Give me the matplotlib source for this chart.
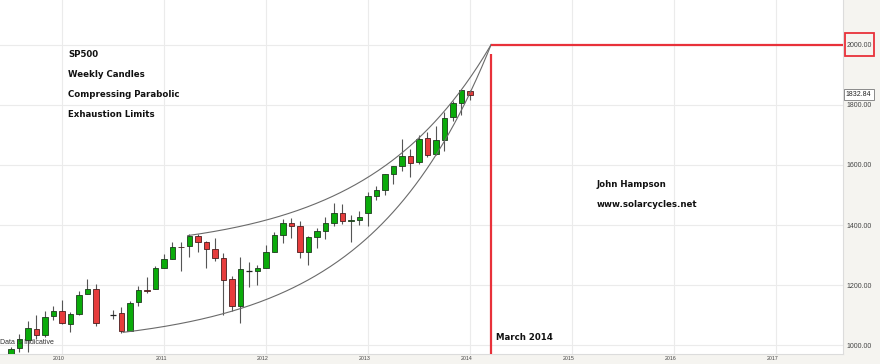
import matplotlib
matplotlib.use('Agg')
import matplotlib.pyplot as plt
import matplotlib.transforms as mtransforms
from matplotlib.patches import Rectangle
import numpy as np

# ---- data (monthly candles, June 2010 missing in source) ----
months = ['2009-07', '2009-08', '2009-09', '2009-10', '2009-11', '2009-12',
          '2010-01', '2010-02', '2010-03', '2010-04', '2010-05', '2010-07',
          '2010-08', '2010-09', '2010-10', '2010-11', '2010-12',
          '2011-01', '2011-02', '2011-03', '2011-04', '2011-05', '2011-06',
          '2011-07', '2011-08', '2011-09', '2011-10', '2011-11', '2011-12',
          '2012-01', '2012-02', '2012-03', '2012-04', '2012-05', '2012-06',
          '2012-07', '2012-08', '2012-09', '2012-10', '2012-11', '2012-12',
          '2013-01', '2013-02', '2013-03', '2013-04', '2013-05', '2013-06',
          '2013-07', '2013-08', '2013-09', '2013-10', '2013-11', '2013-12',
          '2014-01']
opens = [919, 990, 1019, 1054, 1036, 1098,
         1116, 1073, 1106, 1171, 1188, 1100,
         1107, 1049, 1143, 1185, 1187,
         1257, 1289, 1328, 1329, 1365, 1345,
         1320, 1292, 1220, 1131, 1248, 1247,
         1258, 1312, 1366, 1408, 1398, 1310,
         1362, 1379, 1406, 1441, 1412, 1416,
         1440, 1498, 1515, 1569, 1597, 1631,
         1609, 1690, 1636, 1682, 1759, 1806,
         1846]
highs = [996, 1039, 1080, 1101, 1113, 1130,
         1150, 1112, 1180, 1220, 1205, 1118,
         1129, 1148, 1196, 1227, 1263,
         1303, 1344, 1344, 1370, 1371, 1346,
         1356, 1307, 1230, 1293, 1277, 1269,
         1333, 1378, 1420, 1422, 1415, 1363,
         1391, 1426, 1475, 1470, 1434, 1448,
         1509, 1531, 1570, 1597, 1687, 1654,
         1698, 1710, 1730, 1776, 1813, 1849,
         1850]
lows = [869, 979, 978, 1020, 1029, 1085,
        1071, 1044, 1101, 1170, 1066, 1088,
        1040, 1049, 1131, 1173, 1187,
        1257, 1289, 1249, 1294, 1312, 1258,
        1282, 1101, 1114, 1075, 1195, 1202,
        1258, 1312, 1340, 1358, 1291, 1267,
        1325, 1354, 1397, 1403, 1343, 1399,
        1398, 1485, 1501, 1536, 1581, 1560,
        1604, 1627, 1633, 1646, 1746, 1767,
        1815]
closes = [987, 1021, 1057, 1036, 1096, 1115,
          1074, 1104, 1169, 1187, 1074, 1100,
          1049, 1141, 1183, 1181, 1258,
          1286, 1327, 1326, 1364, 1345, 1321,
          1292, 1219, 1131, 1253, 1248, 1258,
          1312, 1366, 1408, 1398, 1310, 1362,
          1379, 1406, 1441, 1412, 1416, 1426,
          1498, 1515, 1569, 1598, 1631, 1606,
          1686, 1633, 1682, 1757, 1806, 1848,
          1832.84]
year_labels = ['2010', '2011', '2012', '2013', '2014', '2015', '2016', '2017']
price_ticks = [1000, 1200, 1400, 1600, 1800, 2000]
last_price = 1832.84
target_price = 2000
target_label = 'March 2014'
notes = ['SP500', 'Weekly Candles', 'Compressing Parabolic', 'Exhaustion Limits']
author = ['John Hampson', 'www.solarcycles.net']

# ---- figure ----
W, H = 880, 364
fig = plt.figure(figsize=(W / 100, H / 100), dpi=100, facecolor='#f5f4f0')
ax = fig.add_axes([0, 10 / H, 843 / W, 1 - 10 / H])
ax.set_facecolor('white')

m = np.array([(int(s[:4]) - 2010) * 12 + int(s[5:]) - 1 for s in months], dtype=float)
o = np.array(opens, float); c = np.array(closes, float)
hi = np.array(highs, float); lo = np.array(lows, float)

ax.set_xlim(-7.29, 91.9)
ax.set_ylim(971.7, 2148)

# grid
for i in range(len(year_labels)):
    ax.axvline(i * 12, color='#ebebeb', lw=0.8, zorder=0)
for p in price_ticks:
    ax.axhline(p, color='#ebebeb', lw=0.8, zorder=0)

# candles
up = c > o
down = c < o
flat = c == o
ax.vlines(m, lo, hi, color='#555555', lw=0.8, zorder=2)
bw = 0.65
ax.bar(m[up], (c - o)[up], bottom=o[up], width=bw, color='#0aab0a',
       edgecolor='#1e3a1e', lw=0.6, zorder=3)
ax.bar(m[down], (o - c)[down], bottom=c[down], width=bw, color='#e63c3c',
       edgecolor='#4a1e1e', lw=0.6, zorder=3)
ax.hlines(c[flat], m[flat] - bw / 2, m[flat] + bw / 2, color='#222222', lw=0.9, zorder=3)

# compressing parabolic curves converging at the apex
apex_m = 50.5
k = 0.07
def curve(m0, B):
    t = np.linspace(m0, apex_m, 200)
    return t, target_price - B * (np.exp(k * apex_m) - np.exp(k * t))
for m0, B in [(14.8, 20.17), (7.2, 29.3)]:
    t, v = curve(m0, B)
    ax.plot(t, v, color='#6a6a6a', lw=0.8, zorder=4)

# red target lines
ax.vlines(apex_m, 971.7, 1967, color='#e8313a', lw=1.6, zorder=5)
ax.hlines(target_price, apex_m, 91.9, color='#e8313a', lw=1.6, zorder=5)

# axes styling
for s in ['top', 'left']:
    ax.spines[s].set_visible(False)
for s in ['right', 'bottom']:
    ax.spines[s].set_color('#dcdcdc')
    ax.spines[s].set_linewidth(0.8)
ax.yaxis.tick_right()
ax.set_yticks(price_ticks)
ax.set_yticklabels(['%.2f' % p for p in price_ticks])
ax.set_xticks([i * 12 - 0.35 for i in range(len(year_labels))])
ax.set_xticklabels(year_labels)
ax.tick_params(axis='y', length=0, pad=2.5, labelsize=5, labelcolor='#444444')
ax.tick_params(axis='x', length=0, pad=1.2, labelsize=3.8, labelcolor='#444444')
for lbl in ax.get_yticklabels() + ax.get_xticklabels():
    lbl.set_fontfamily('Liberation Sans')

trans = mtransforms.blended_transform_factory(ax.transAxes, ax.transData)
ax.add_patch(Rectangle((1.0024, 1963), 0.0344, 77, transform=trans, fill=False,
                       ec='#e8313a', lw=1.3, clip_on=False, zorder=6))
ax.text(1.0035, last_price, '%.2f' % last_price, transform=trans, va='center',
        ha='left', fontsize=5, family='Liberation Sans', color='#222222',
        bbox=dict(boxstyle='square,pad=0.3', fc='white', ec='#8a8a8a', lw=0.7),
        zorder=7, clip_on=False)

# annotations
for i, t in enumerate(notes):
    ax.text(0.7, 1967 - i * 66.5, t, fontsize=6.2, fontweight='bold',
            color='#111111', va='center', ha='left', family='DejaVu Sans')
for i, t in enumerate(author):
    ax.text(62.9, 1535 - i * 67, t, fontsize=6.2, fontweight='bold',
            color='#111111', va='center', ha='left', family='DejaVu Sans')
ax.text(51.06, 1028, target_label, fontsize=6.2, fontweight='bold',
        color='#111111', va='center', ha='left', family='DejaVu Sans')
ax.text(0.0, 12 / (H - 10), 'Data is Indicative', transform=ax.transAxes,
        fontsize=5, family='Liberation Sans', color='#333333', va='center',
        ha='left', zorder=8)

fig.savefig('out.png', dpi=100, facecolor=fig.get_facecolor())
